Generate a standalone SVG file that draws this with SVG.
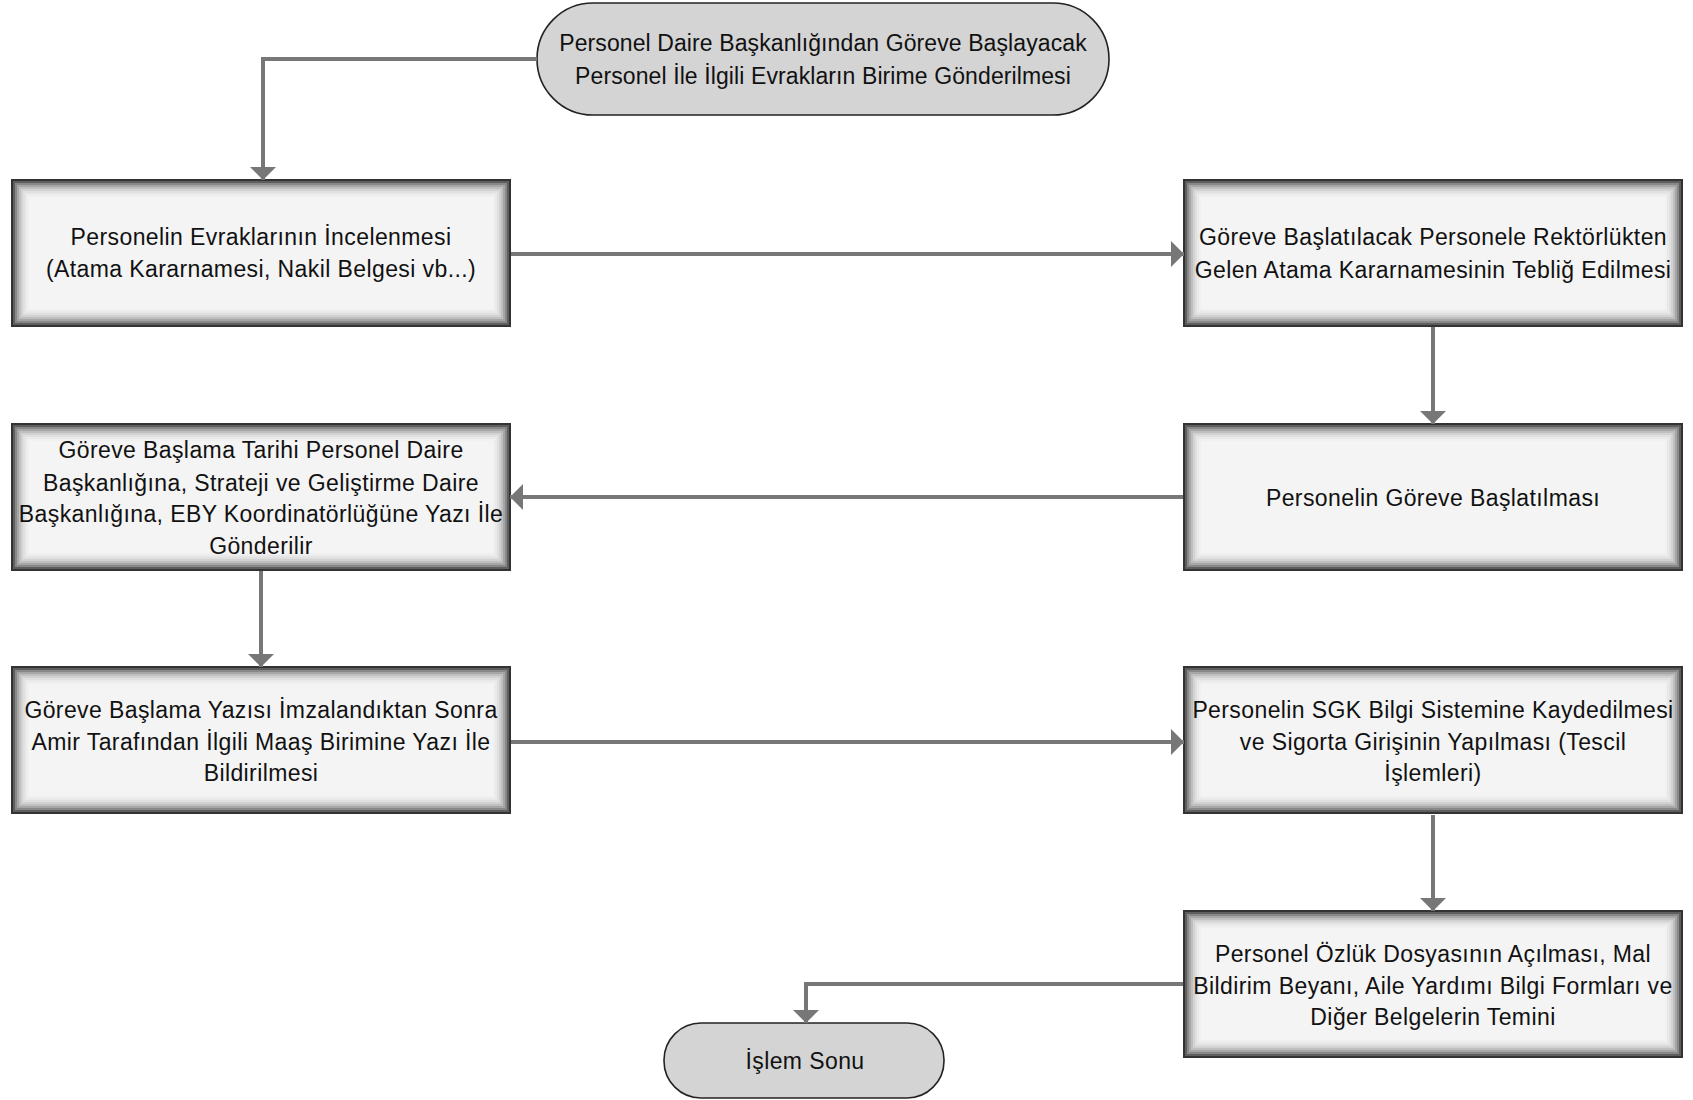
<svg xmlns="http://www.w3.org/2000/svg" width="1693" height="1100" viewBox="0 0 1693 1100">
<style>
.term{fill:#d4d4d4;stroke:#222;stroke-width:1.6}
.t{font-family:"Liberation Sans",Arial,sans-serif;font-size:23px;fill:#111;text-anchor:middle;letter-spacing:0.4px}
.s{letter-spacing:0.1px}
.c{fill:none;stroke:#777;stroke-width:4;marker-end:url(#ah)}
.f{fill:none;stroke-width:2}
</style>
<defs>
<marker id="ah" markerWidth="28" markerHeight="28" refX="13" refY="13" orient="auto" markerUnits="userSpaceOnUse">
<path d="M0,0 L13,13 L0,26 z" fill="#777"/>
</marker>
<g id="boxshape">
<rect x="0" y="0" width="500" height="148" fill="#f4f4f4"/>
<rect class="f" x="17" y="17" width="466" height="114" stroke="#f0f0f0"/>
<rect class="f" x="15" y="15" width="470" height="118" stroke="#e9e9e9"/>
<rect class="f" x="13" y="13" width="474" height="122" stroke="#e0e0e0"/>
<rect class="f" x="11" y="11" width="478" height="126" stroke="#d2d2d2"/>
<rect class="f" x="9" y="9" width="482" height="130" stroke="#bfbfbf"/>
<rect class="f" x="7" y="7" width="486" height="134" stroke="#a6a6a6"/>
<rect class="f" x="5" y="5" width="490" height="138" stroke="#888"/>
<rect class="f" x="3" y="3" width="494" height="142" stroke="#5e5e5e"/>
<rect class="f" x="1" y="1" width="498" height="146" stroke="#333"/>
</g>
</defs>
<rect width="1693" height="1100" fill="#fff"/>
<g id="start">
<rect class="term" x="537" y="3" width="572" height="112" rx="56" ry="56"/>
<text class="t s" x="823" y="51">Personel Daire Başkanlığından Göreve Başlayacak</text>
<text class="t s" x="823" y="84">Personel İle İlgili Evrakların Birime Gönderilmesi</text>
</g>
<g id="n1">
<use href="#boxshape" x="11" y="179"/>
<text class="t" x="261" y="245">Personelin Evraklarının İncelenmesi</text>
<text class="t" x="261" y="277">(Atama Kararnamesi, Nakil Belgesi vb...)</text>
</g>
<g id="n2">
<use href="#boxshape" x="1183" y="179"/>
<text class="t" x="1433" y="245">Göreve Başlatılacak Personele Rektörlükten</text>
<text class="t" x="1433" y="278">Gelen Atama Kararnamesinin Tebliğ Edilmesi</text>
</g>
<g id="n3">
<use href="#boxshape" x="1183" y="423"/>
<text class="t" x="1433" y="506">Personelin Göreve Başlatılması</text>
</g>
<g id="n4">
<use href="#boxshape" x="11" y="423"/>
<text class="t" x="261" y="458">Göreve Başlama Tarihi Personel Daire</text>
<text class="t" x="261" y="491">Başkanlığına, Strateji ve Geliştirme Daire</text>
<text class="t" x="261" y="522">Başkanlığına, EBY Koordinatörlüğüne Yazı İle</text>
<text class="t" x="261" y="554">Gönderilir</text>
</g>
<g id="n5">
<use href="#boxshape" x="11" y="666"/>
<text class="t" x="261" y="718">Göreve Başlama Yazısı İmzalandıktan Sonra</text>
<text class="t" x="261" y="750">Amir Tarafından İlgili Maaş Birimine Yazı İle</text>
<text class="t" x="261" y="781">Bildirilmesi</text>
</g>
<g id="n6">
<use href="#boxshape" x="1183" y="666"/>
<text class="t" x="1433" y="718">Personelin SGK Bilgi Sistemine Kaydedilmesi</text>
<text class="t" x="1433" y="750">ve Sigorta Girişinin Yapılması (Tescil</text>
<text class="t" x="1433" y="781">İşlemleri)</text>
</g>
<g id="n7">
<use href="#boxshape" x="1183" y="910"/>
<text class="t" x="1433" y="962">Personel Özlük Dosyasının Açılması, Mal</text>
<text class="t" x="1433" y="994">Bildirim Beyanı, Aile Yardımı Bilgi Formları ve</text>
<text class="t" x="1433" y="1025">Diğer Belgelerin Temini</text>
</g>
<g id="end">
<rect class="term" x="664" y="1023" width="280" height="75" rx="37" ry="37"/>
<text class="t" x="805" y="1069">İşlem Sonu</text>
</g>
<g id="connectors">
<path class="c" d="M537,59 H263 V180"/>
<path class="c" d="M511,254 H1184"/>
<path class="c" d="M1433,327 V424"/>
<path class="c" d="M1183,497 H510"/>
<path class="c" d="M261,571 V667"/>
<path class="c" d="M511,742 H1184"/>
<path class="c" d="M1433,815 V911"/>
<path class="c" d="M1183,984 H806 V1023"/>
</g>
</svg>
